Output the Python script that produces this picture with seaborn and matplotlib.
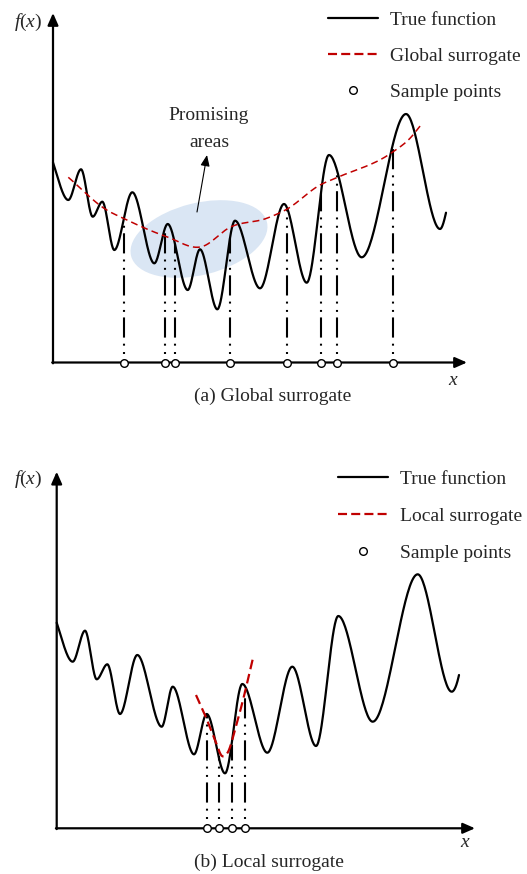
import numpy as np
import pandas as pd
import matplotlib
matplotlib.use("Agg")
import matplotlib.pyplot as plt
import seaborn as sns
from matplotlib.patches import Ellipse
from matplotlib.lines import Line2D

# ---------------- data (panel units: px from origin) ----
# (a) true function: start, extrema ..., end
top_true_x = [0, 15.3, 28, 39.7, 49.3, 61.3, 79.3, 101.3, 114.7, 134.7, 147, 164.3,
              182, 207, 231, 253.7, 276, 308.7, 353, 387, 393]
top_true_y = [200, 162.5, 193.2, 145.8, 160.8, 112.5, 170.2, 99.2, 138.5, 72.5, 113.2,
              53.2, 141.8, 74.2, 158.5, 79.8, 207.5, 105.2, 248.5, 133.5, 149.8]
top_true_end_slopes = (-3.0, 4.5)
# (a) global surrogate
top_sur_x = [15.3, 53.7, 70.3, 113.7, 148.7, 177, 213.7, 233.7, 267, 283.7, 338.7, 357, 368.7]
top_sur_y = [185.2, 152.5, 144.2, 125.8, 115.8, 135.2, 144.2, 153.2, 177.5, 184.8, 209.8, 224.2, 238.5]
# (a) sample points
top_samples_x = [71, 112, 122, 177, 234, 268, 284, 340]

# (b) true function
bot_true_x = [0, 16, 28.3, 40, 50.6, 63.3, 80.6, 105, 116, 137.3, 150, 168.3, 185.6,
              210.6, 235.6, 259.3, 281.6, 316, 361, 395, 402.3]
bot_true_y = [205.6, 166.6, 197.6, 149, 164, 114.3, 173.3, 101.6, 141.6, 74, 114.3, 55,
              144.3, 75.6, 161.6, 82.3, 212.3, 106.6, 254, 136.6, 153.3]
bot_true_end_slopes = (-3.0, 4.5)
# (b) local surrogate
bot_sur_x = [139.3, 148.3, 158.3, 165.3, 171.3, 178.3, 186.3, 196.3]
bot_sur_y = [133.3, 113.3, 88.3, 72.3, 76.3, 98.3, 128.3, 170.3]
# (b) sample points
bot_samples_x = [149.8, 161.8, 174.8, 188.3]

legend_top = ["True function", "Global surrogate", "Sample points"]
legend_bot = ["True function", "Local surrogate", "Sample points"]
caption_top = "(a) Global surrogate"
caption_bot = "(b) Local surrogate"
note_text = "Promising\nareas"

# ---------------- style ----------------
sns.set_theme(style="white")
plt.rcParams['font.family'] = ['Liberation Serif', 'DejaVu Serif']
plt.rcParams['mathtext.fontset'] = 'custom'
plt.rcParams['mathtext.rm'] = 'Liberation Serif'
plt.rcParams['mathtext.it'] = 'Liberation Serif:italic'
plt.rcParams['lines.scale_dashes'] = False

RED = '#C00000'
BLUE = '#DAE6F4'
FS = 14
DASHDOT2 = (12, (14.5, 4, 1.4, 4.6, 1.4, 4.4))


def hermite(xs, ys, slopes, n=40):
    xs = np.asarray(xs, float)
    ys = np.asarray(ys, float)
    X, Y = [], []
    for i in range(len(xs) - 1):
        h = xs[i + 1] - xs[i]
        t = np.linspace(0, 1, n, endpoint=(i == len(xs) - 2))
        h00 = 2 * t**3 - 3 * t**2 + 1
        h10 = t**3 - 2 * t**2 + t
        h01 = -2 * t**3 + 3 * t**2
        h11 = t**3 - t**2
        X.append(xs[i] + t * h)
        Y.append(h00 * ys[i] + h10 * h * slopes[i] + h01 * ys[i + 1] + h11 * h * slopes[i + 1])
    return np.concatenate(X), np.concatenate(Y)


def true_curve(xs, ys, end_slopes):
    s = np.zeros(len(xs))
    s[0], s[-1] = end_slopes
    return hermite(xs, ys, s)


def sur_curve(xs, ys):
    return hermite(xs, ys, np.gradient(np.asarray(ys, float), np.asarray(xs, float)))


fig = plt.figure(figsize=(5.27, 8.74), dpi=100)
W, H = 527, 874


def panel(rect_px, origin_px):
    x0, y0, x1, y1 = rect_px
    ax = fig.add_axes([x0 / W, 1 - y1 / H, (x1 - x0) / W, (y1 - y0) / H])
    ox, oy = origin_px
    ax.set_xlim(x0 - ox, x1 - ox)
    ax.set_ylim(oy - y1, oy - y0)
    ax.axis('off')
    return ax


def draw_axes_arrows(ax, xtip, ytip):
    style = dict(arrowstyle='-|>,head_length=0.5,head_width=0.22', mutation_scale=14.4,
                 lw=1.6, color='black', shrinkA=0, shrinkB=0)
    ax.annotate('', xy=(xtip, 0), xytext=(-0.8, 0), arrowprops=style, annotation_clip=False)
    ax.annotate('', xy=(0, ytip), xytext=(0, -0.8), arrowprops=style, annotation_clip=False)


def draw_panel(ax, tx, ty, tslopes, sx, sy, samples, sur_lw, sur_dash, legend_labels,
               leg_anchor, leg_spacing, xtip, ytip, fx_pos, x_pos, cap_pos, caption):
    cx, cy = true_curve(tx, ty, tslopes)
    df_true = pd.DataFrame({'x': cx, 'y': cy})
    sns.lineplot(data=df_true, x='x', y='y', color='black', lw=1.6, ax=ax,
                 estimator=None, sort=False, zorder=3)
    # vertical guide lines to the true function
    tops = np.interp(samples, cx, cy)
    ax.vlines(samples, 0, tops, colors='black', lw=1.5, linestyles=[DASHDOT2], zorder=2)
    ux, uy = sur_curve(sx, sy)
    df_sur = pd.DataFrame({'x': ux, 'y': uy})
    sns.lineplot(data=df_sur, x='x', y='y', color=RED, lw=sur_lw, ax=ax,
                 estimator=None, sort=False, zorder=4, linestyle=(0, sur_dash))
    draw_axes_arrows(ax, xtip, ytip)
    df_s = pd.DataFrame({'x': samples, 'y': np.zeros(len(samples))})
    sns.scatterplot(data=df_s, x='x', y='y', s=30, color='white', edgecolor='black',
                    linewidth=1.0, ax=ax, zorder=6, clip_on=False)
    handles = [Line2D([], [], color='black', lw=1.6),
               Line2D([], [], color=RED, lw=1.6, linestyle=(0, (6.5, 3))),
               Line2D([], [], color='none', marker='o', markersize=5.5,
                      markerfacecolor='white', markeredgecolor='black', markeredgewidth=1.0)]
    ax.legend(handles, legend_labels, loc='upper left',
              bbox_to_anchor=(leg_anchor[0] / W, 1 - leg_anchor[1] / H),
              bbox_transform=fig.transFigure, frameon=False, fontsize=FS,
              handlelength=2.57, handletextpad=0.62, labelspacing=leg_spacing,
              borderpad=0, borderaxespad=0, numpoints=1)
    ax.text(*fx_pos, r'$f$' + '(' + r'$x$' + ')', fontsize=FS, ha='center', va='center')
    ax.text(*x_pos, 'x', fontsize=FS, style='italic', ha='center', va='center')
    ax.text(*cap_pos, caption, fontsize=FS, ha='center', va='center')
    ax.set_xlabel('')
    ax.set_ylabel('')


# ---------- panel (a) ----------
ax1 = panel((0, 0, 527, 420), (53, 362.5))
ax1.add_patch(Ellipse((146, 123.5), 140, 72, angle=14, facecolor=BLUE,
                      edgecolor='none', zorder=0))
draw_panel(ax1, top_true_x, top_true_y, top_true_end_slopes, top_sur_x, top_sur_y,
           top_samples_x, 1.1, (5, 3), legend_top, (328, 11), 0.95, 414, 349.5,
           (-25.3, 340.5), (400, -18.2), (219.5, -33.5), caption_top)
ax1.text(156, 233.5, note_text, fontsize=FS, ha='center', va='center', linespacing=1.7)
ax1.annotate('', xy=(154, 207.5), xytext=(144, 150.5),
             arrowprops=dict(arrowstyle='-|>,head_length=0.6,head_width=0.25',
                             mutation_scale=11, lw=0.8, color='black',
                             shrinkA=0, shrinkB=0))

# ---------- panel (b) ----------
ax2 = panel((0, 440, 527, 874), (56.7, 828.3))
draw_panel(ax2, bot_true_x, bot_true_y, bot_true_end_slopes, bot_sur_x, bot_sur_y,
           bot_samples_x, 1.6, (7, 3.5), legend_bot, (337.7, 470), 1.0, 418.3, 356.6,
           (-28.4, 349), (407.6, -14.4), (212.3, -34.4), caption_bot)

fig.savefig('out.png', dpi=100)
